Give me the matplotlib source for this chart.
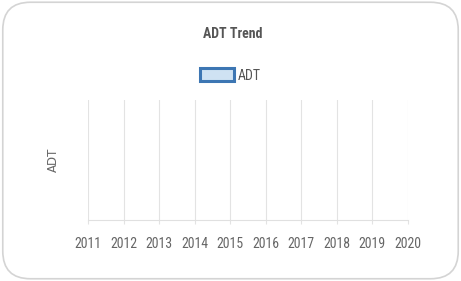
import matplotlib.pyplot as plt
from matplotlib.patches import FancyBboxPatch
import numpy as np

# chart data (the trend has no values yet)
years = [2011, 2012, 2013, 2014, 2015, 2016, 2017, 2018, 2019, 2020]
adt = [np.nan] * len(years)

narrow = ['Roboto Condensed', 'Liberation Sans', 'DejaVu Sans']

fig = plt.figure(figsize=(4.61, 2.81), dpi=100)
fig.patch.set_facecolor('white')

# rounded card border, behind the axes
card = FancyBboxPatch((0.006, 0.008), 0.988, 0.984, boxstyle='round,pad=0,rounding_size=0.06',
                      transform=fig.transFigure, facecolor='white', edgecolor='#d4d4d4',
                      linewidth=1.2, mutation_aspect=461 / 281, zorder=-5)
fig.patches.append(card)

ax = fig.add_axes([0.191, 0.217, 0.694, 0.427])
ax.set_zorder(2)
ax.fill_between(years, adt, color='#cfe2f3', edgecolor='#3d76b3', linewidth=2.2, label='ADT')

ax.set_xlim(years[0], years[-1])
ax.set_ylim(0, 1)
ax.set_xticks(years)
ax.set_xticklabels([str(y) for y in years], family=narrow, fontsize=10, color='#666666')
ax.set_yticks([])
ax.grid(axis='x', color='#e3e3e3', linewidth=0.8)
ax.tick_params(axis='x', length=3, color='#e3e3e3', pad=9)
for s in ['top', 'right', 'left']:
    ax.spines[s].set_visible(False)
ax.spines['bottom'].set_color('#e0e0e0')
ax.set_facecolor('none')

ax.set_ylabel('ADT', fontsize=8.5, color='#666666', labelpad=20)

fig.text(0.505, 0.88, 'ADT Trend', ha='center', va='center', family=narrow,
         fontsize=10, fontweight='bold', color='#555555')

ax.legend(loc='center', bbox_to_anchor=(0.5, 0.732), bbox_transform=fig.transFigure,
          frameon=False, prop={'family': narrow, 'size': 10}, handlelength=2.4,
          handleheight=1.1, handletextpad=0.3, labelcolor='#555555')

fig.savefig('out.png', dpi=100)
